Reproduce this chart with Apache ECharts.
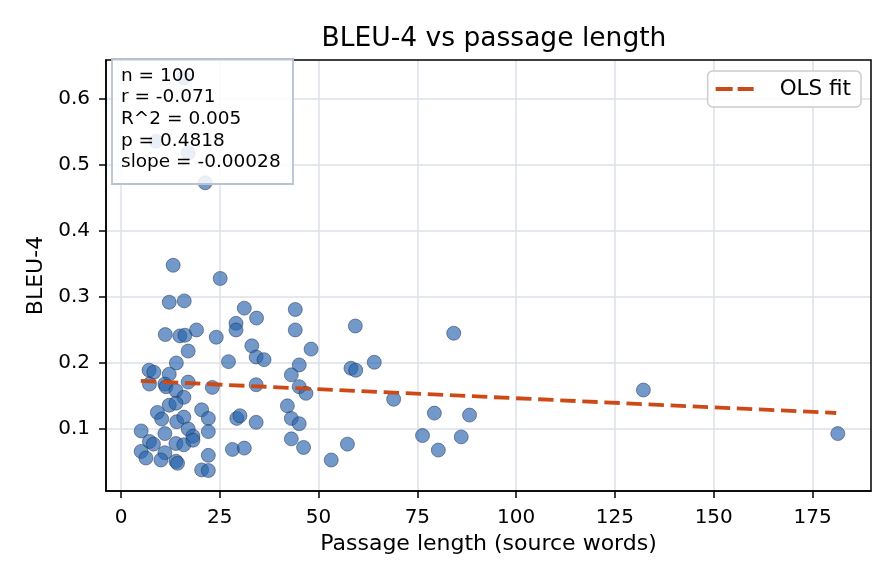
<!DOCTYPE html>
<html>
<head>
<meta charset="utf-8">
<script src="https://cdn.jsdelivr.net/npm/echarts@6/dist/echarts.min.js"></script>
<style>
html,body{margin:0;padding:0;background:#fff;}
#chart{width:896px;height:584px;}
</style>
</head>
<body>
<div id="chart"></div>
<script>
// Passage length (source words)
const passageLength = [15.9, 8.9, 17.0, 21.3, 13.2, 25.1, 12.2, 16.0, 31.2, 34.3,
  29.1, 29.1, 11.2, 14.9, 16.2, 19.1, 24.1, 17.0, 44.1, 44.1,
  33.1, 34.2, 36.2, 27.2, 14.0, 7.1, 8.3, 12.2, 45.1, 43.1,
  23.1, 34.2, 45.1, 46.8, 20.4, 22.1, 29.3, 30.1, 34.2, 42.1,
  43.1, 45.1, 22.1, 43.1, 46.2, 28.2, 31.2, 22.1, 20.4, 22.1,
  48.1, 59.3, 64.1, 58.2, 59.4, 69.0, 57.3, 53.2, 84.2, 79.3,
  88.2, 76.3, 86.1, 80.3, 132.2, 181.4, 7.2, 11.1, 11.4, 13.9,
  17.0, 15.9, 12.2, 13.9, 9.2, 10.3, 14.1, 15.9, 5.1, 11.1,
  17.0, 18.2, 7.2, 8.2, 13.9, 15.9, 18.2, 5.1, 6.3, 11.1,
  10.1, 13.9, 14.3];
// BLEU-4 scores
const bleu4 = [0.632, 0.536, 0.518, 0.473, 0.348, 0.328, 0.292, 0.294, 0.283, 0.268,
  0.260, 0.250, 0.243, 0.241, 0.242, 0.250, 0.239, 0.218, 0.281, 0.250,
  0.226, 0.209, 0.205, 0.202, 0.200, 0.189, 0.186, 0.183, 0.197, 0.182,
  0.163, 0.167, 0.164, 0.154, 0.129, 0.116, 0.116, 0.120, 0.110, 0.135,
  0.116, 0.108, 0.096, 0.085, 0.072, 0.069, 0.071, 0.060, 0.038, 0.037,
  0.221, 0.256, 0.201, 0.192, 0.189, 0.145, 0.077, 0.053, 0.245, 0.124,
  0.121, 0.090, 0.088, 0.068, 0.159, 0.093, 0.168, 0.168, 0.164, 0.158,
  0.171, 0.148, 0.136, 0.139, 0.125, 0.115, 0.111, 0.118, 0.097, 0.093,
  0.100, 0.089, 0.081, 0.077, 0.078, 0.076, 0.083, 0.066, 0.056, 0.064,
  0.053, 0.051, 0.048];
// OLS fit endpoints
const fitX = [5, 181];
const fitY = [0.1727, 0.1242];
// Tick labels
const xTicks = [0, 25, 50, 75, 100, 125, 150, 175];
const yTicks = [0.1, 0.2, 0.3, 0.4, 0.5, 0.6];
// Stats text
const statsLines = ['n = 100', 'r = -0.071', 'R^2 = 0.005', 'p = 0.4818', 'slope = -0.00028'];

const FONT = 'DejaVu Sans';
const FIT_COLOR = '#cc4a17';
const grid = {left: 106, top: 60, width: 765, height: 431};

const chart = echarts.init(document.getElementById('chart'), null, {renderer: 'canvas'});
const option = {
  animation: false,
  backgroundColor: '#ffffff',
  textStyle: {fontFamily: FONT},
  title: {
    text: 'BLEU-4 vs passage length',
    left: 489, top: 21, textAlign: 'center',
    textStyle: {fontFamily: FONT, fontSize: 26.5, fontWeight: 'normal', color: '#000'}
  },
  grid: {left: grid.left, top: grid.top, width: grid.width, height: grid.height, containLabel: false},
  legend: {
    data: [{name: 'OLS fit', icon: 'path://M0,0H17V4H0Z M22,0H38V4H22Z'}],
    right: 35, top: 71,
    orient: 'vertical',
    itemWidth: 38, itemHeight: 4, itemGap: 10,
    padding: [7, 10, 7, 8],
    backgroundColor: 'rgba(255,255,255,0.85)',
    borderColor: '#cccccc', borderWidth: 1.5, borderRadius: 5,
    textStyle: {fontFamily: FONT, fontSize: 21.5, color: '#000', padding: [0, 0, 0, 21]}
  },
  xAxis: {
    type: 'value', min: -3.8, max: 189.8,
    name: 'Passage length (source words)', nameLocation: 'middle', nameGap: 42,
    nameTextStyle: {fontFamily: FONT, fontSize: 22, color: '#000'},
    axisLine: {show: true, onZero: false, lineStyle: {color: '#000', width: 1.5}},
    axisTick: {show: true, inside: false, length: 7, customValues: xTicks, lineStyle: {color: '#000', width: 1.5}},
    axisLabel: {customValues: xTicks, fontFamily: FONT, fontSize: 20, color: '#000', margin: 17},
    splitLine: {show: true, lineStyle: {color: '#dde2ea', width: 1.5}}
  },
  yAxis: {
    type: 'value', min: 0.006, max: 0.659,
    name: 'BLEU-4', nameLocation: 'middle', nameGap: 58, nameRotate: 90,
    nameTextStyle: {fontFamily: FONT, fontSize: 22, color: '#000'},
    axisLine: {show: true, onZero: false, lineStyle: {color: '#000', width: 1.5}},
    axisTick: {show: true, inside: false, length: 7, customValues: yTicks, lineStyle: {color: '#000', width: 1.5}},
    axisLabel: {customValues: yTicks, fontFamily: FONT, fontSize: 20, color: '#000', margin: 16,
      formatter: v => v.toFixed(1)},
    splitLine: {show: true, lineStyle: {color: '#dde2ea', width: 1.5}}
  },
  series: [
    {
      name: 'passages', type: 'scatter', z: 2,
      data: passageLength.map((x, i) => [x, bleu4[i]]),
      symbolSize: 14,
      itemStyle: {color: 'rgba(40,100,172,0.82)', borderColor: '#1d2b45', borderWidth: 0.6}
    },
    {
      name: 'OLS fit', type: 'line', z: 3,
      data: fitX.map((x, i) => [x, fitY[i]]),
      showSymbol: false, symbol: 'none',
      lineStyle: {color: FIT_COLOR, width: 3.8, type: [15.4, 6.7]},
      itemStyle: {color: FIT_COLOR}
    }
  ],
  graphic: {
    elements: [
      {
        type: 'rect', zlevel: 2, z: 100, silent: true,
        shape: {x: grid.left, y: grid.top, width: grid.width, height: grid.height},
        style: {fill: 'none', stroke: '#000', lineWidth: 1.5}
      },
      {
        type: 'rect', zlevel: 2, z: 100, silent: true,
        shape: {x: 112, y: 59, width: 181, height: 125},
        style: {fill: 'rgba(255,255,255,0.85)', stroke: '#b8c2d0', lineWidth: 1.8}
      },
      {
        type: 'text', zlevel: 2, z: 101, silent: true,
        x: 121, y: 65,
        style: {text: statsLines.join('\n'), fontFamily: FONT, fontSize: 18.5, lineHeight: 21.7, fill: '#000'}
      }
    ]
  }
};
chart.setOption(option);
</script>
</body>
</html>
